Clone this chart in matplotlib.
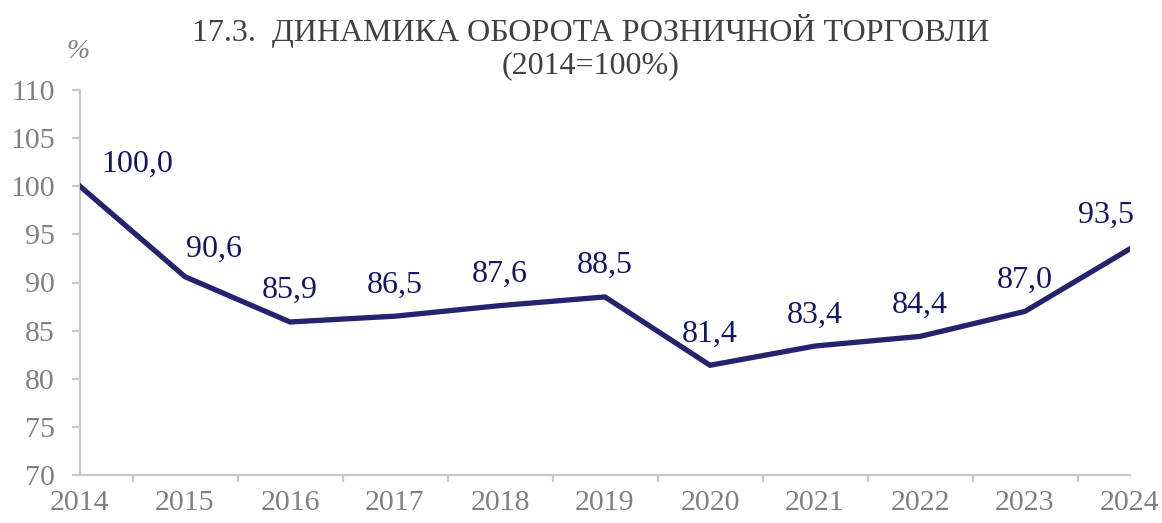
import numpy as np
import matplotlib.pyplot as plt
from matplotlib.ticker import FixedLocator

# ------------------ Data ------------------
years = ['2014', '2015', '2016', '2017', '2018', '2019', '2020', '2021', '2022', '2023', '2024']
values = [100.0, 90.6, 85.9, 86.5, 87.6, 88.5, 81.4, 83.4, 84.4, 87.0, 93.5]
y_ticks = [70, 75, 80, 85, 90, 95, 100, 105, 110]

# label offsets in points (dx, dy) relative to each point
label_offsets = [(41, 5), (21, 9), (0, 12), (0, 12), (0, 12), (0, 12),
                 (0, 12), (0, 12), (0, 12), (0, 12), (-17, 14)]

plt.rcParams['font.family'] = ['Liberation Serif', 'DejaVu Serif']

line_color = '#23236F'
label_color = '#14146E'
grey = '#808080'
spine_color = '#C8C8C8'

fig = plt.figure(figsize=(11.62, 5.23), dpi=100)
ax = fig.add_axes([80 / 1162, 1 - 475 / 523, 1050 / 1162, 385 / 523])

x = np.arange(len(years))
ax.plot(x, values, color=line_color, linewidth=3.8, solid_joinstyle='miter', zorder=3)

for i, v in enumerate(values):
    dx, dy = label_offsets[i]
    ax.annotate(f'{v:.1f}'.replace('.', ','), (x[i], v), xytext=(dx, dy),
                textcoords='offset points', ha='center', va='bottom',
                fontsize=23, color=label_color)

ax.set_xlim(0, len(years) - 1)
ax.set_ylim(70, 110)
ax.set_yticks(y_ticks)
ax.set_yticklabels([str(t) for t in y_ticks])
ax.set_xticks(x)
ax.set_xticklabels(years)
ax.xaxis.set_minor_locator(FixedLocator(list(x[:-1] + 0.5) + [x[-1]]))

for side in ['top', 'right']:
    ax.spines[side].set_visible(False)
for side in ['left', 'bottom']:
    ax.spines[side].set_color(spine_color)
    ax.spines[side].set_linewidth(1.6)

ax.tick_params(axis='y', which='major', direction='out', length=6, width=1.6,
               color=spine_color, labelcolor=grey, labelsize=21.5, pad=12)
ax.tick_params(axis='x', which='major', length=0, labelcolor=grey, labelsize=21.5, pad=11)
ax.tick_params(axis='x', which='minor', direction='out', length=5, width=1.6, color=spine_color)

fig.text(0.508, 1 - 31 / 523, '17.3.  ДИНАМИКА ОБОРОТА РОЗНИЧНОЙ ТОРГОВЛИ',
         ha='center', va='center', fontsize=23, color='#404040')
fig.text(0.508, 1 - 66 / 523, '(2014=100%)', ha='center', va='center', fontsize=23, color='#404040')
fig.text(78 / 1162, 1 - 52 / 523, '%', ha='center', va='center', fontsize=20,
         style='italic', color=grey)

fig.savefig('out.png', dpi=100)
